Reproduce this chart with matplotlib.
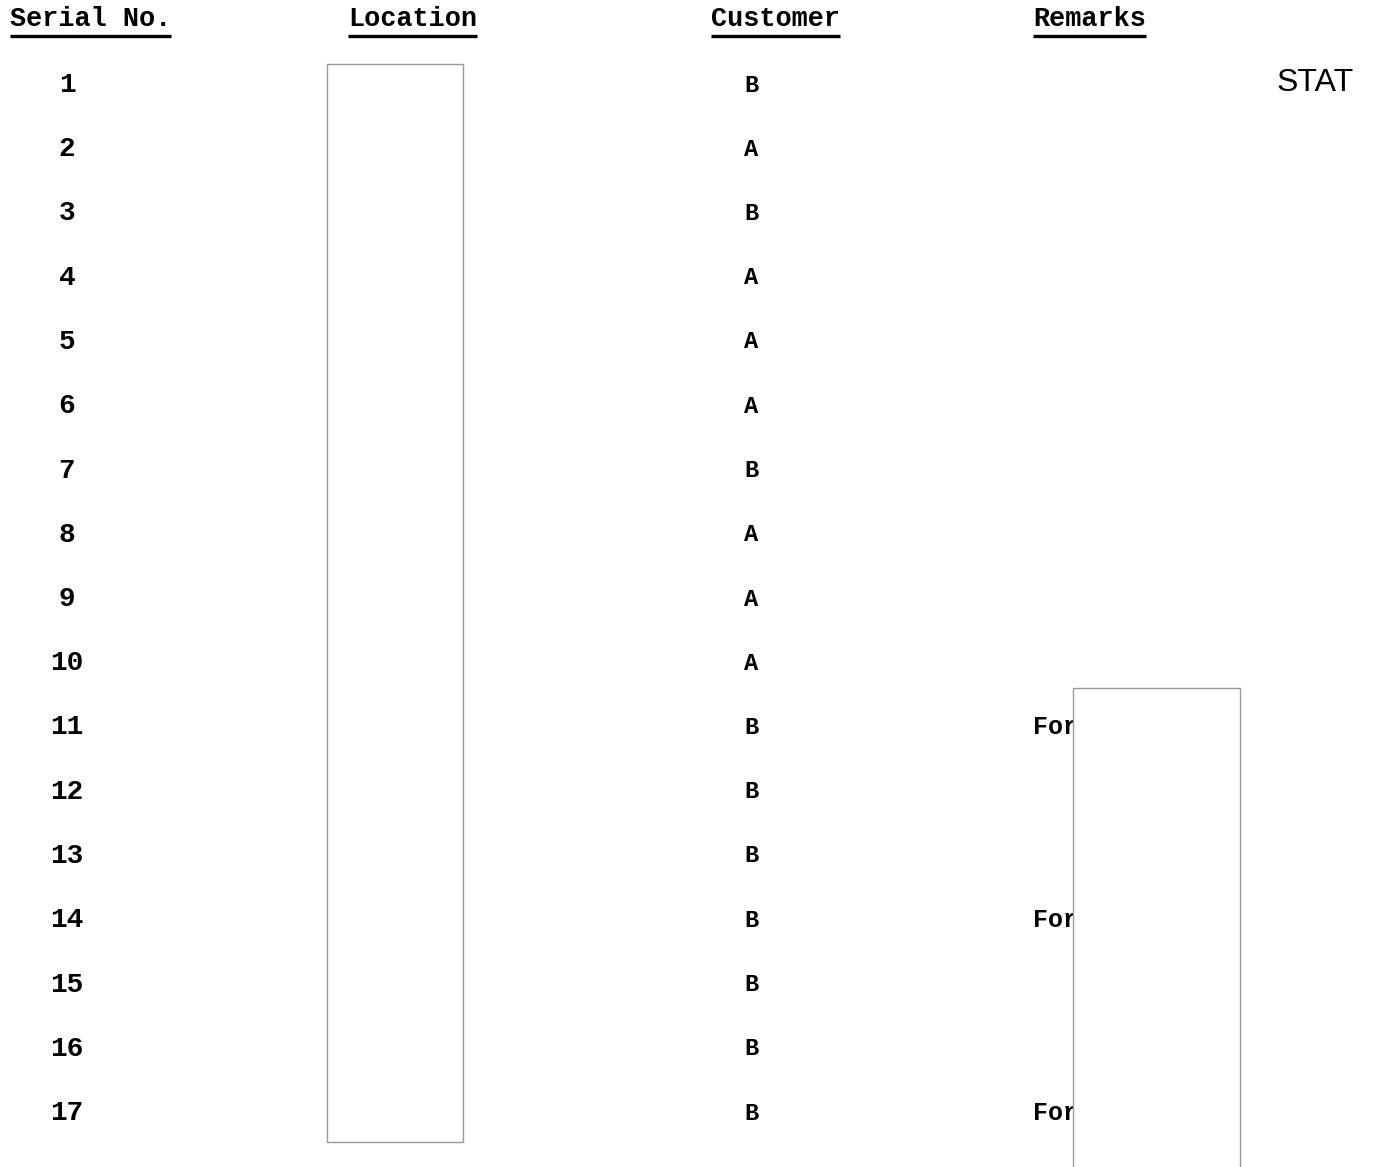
import matplotlib.pyplot as plt
from matplotlib.patches import Rectangle

headers = ["Serial No.", "Location", "Customer", "Remarks"]
serial_no = ["1", "2", "3", "4", "5", "6", "7", "8", "9", "10",
             "11", "12", "13", "14", "15", "16", "17"]
customer = ["B", "A", "B", "A", "A", "A", "B", "A", "A", "A",
            "B", "B", "B", "B", "B", "B", "B"]
remarks = ["", "", "", "", "", "", "", "", "", "",
           "For", "", "", "For", "", "", "For"]
stamp = "STAT"

W, H = 1374, 1167
fig = plt.figure(figsize=(W / 100, H / 100), dpi=100)
ax = fig.add_axes([0, 0, 1, 1])
ax.set_xlim(0, W)
ax.set_ylim(H, 0)
ax.axis("off")

mono = dict(family="Liberation Mono", weight="bold", color="black")

# header row with underlines
head_x = [10, 348, 711, 1033]
for hx, h in zip(head_x, headers):
    t = ax.text(hx, 19, h, fontsize=19.4, ha="left", va="center", **mono)
    fig.canvas.draw()
    bb = t.get_window_extent().transformed(ax.transData.inverted())
    ax.plot([bb.x0, bb.x1], [36, 36], color="black", lw=2.4, solid_capstyle="butt")

# rows
y0, step = 85, 64.25
for i, (s, c, r) in enumerate(zip(serial_no, customer, remarks)):
    y = y0 + i * step
    ax.text(67, y, s, fontsize=20, ha="center", va="center", **mono)
    ax.text(751, y, c, fontsize=17, ha="center", va="center", **mono)
    if r:
        ax.text(1033, y, r, fontsize=18, ha="left", va="center", **mono)

# redaction boxes
ax.add_patch(Rectangle((327, 64), 136, 1078, facecolor="white",
                       edgecolor="#999999", lw=1, zorder=5))
ax.add_patch(Rectangle((1073, 688), 167, 485, facecolor="white",
                       edgecolor="#999999", lw=1, zorder=5))

ax.text(1315, 83, stamp, fontsize=23, ha="center", va="center",
        family="Liberation Sans", color="black")

fig.savefig("out.png", dpi=100, facecolor="white")
